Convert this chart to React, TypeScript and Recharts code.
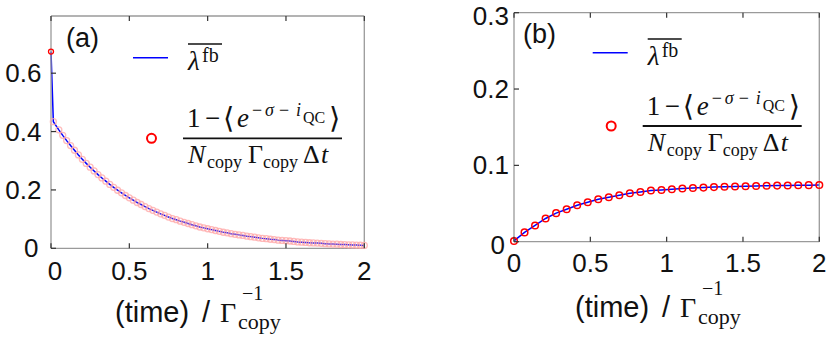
import React from 'react';
import { ComposedChart, Line, XAxis, YAxis } from 'recharts';

// panel (a): decay after the feedback switch-on
const timeA = [
  0, 0.015, 0.05, 0.075, 0.1, 0.125, 0.15, 0.175, 0.2, 0.225, 0.25, 0.275, 0.3, 0.325, 0.35, 0.375,
  0.4, 0.425, 0.45, 0.475, 0.5, 0.525, 0.55, 0.575, 0.6, 0.625, 0.65, 0.675, 0.7, 0.725, 0.75, 0.775,
  0.8, 0.825, 0.85, 0.875, 0.9, 0.925, 0.95, 0.975, 1.0, 1.025, 1.05, 1.075, 1.1, 1.125, 1.15, 1.175,
  1.2, 1.225, 1.25, 1.275, 1.3, 1.325, 1.35, 1.375, 1.4, 1.425, 1.45, 1.475, 1.5, 1.525, 1.55, 1.575,
  1.6, 1.625, 1.65, 1.675, 1.7, 1.725, 1.75, 1.775, 1.8, 1.825, 1.85, 1.875, 1.9, 1.925, 1.95, 1.975, 2.0,
];
const lambdaA = [
  0.674, 0.434, 0.406, 0.387, 0.369, 0.352, 0.336, 0.32, 0.305, 0.291, 0.278, 0.265, 0.2525, 0.241, 0.23, 0.219,
  0.209, 0.199, 0.19, 0.181, 0.173, 0.165, 0.157, 0.15, 0.143, 0.136, 0.13, 0.124, 0.118, 0.113, 0.107, 0.102,
  0.098, 0.093, 0.089, 0.085, 0.081, 0.077, 0.073, 0.07, 0.067, 0.064, 0.061, 0.058, 0.055, 0.053, 0.05, 0.048,
  0.046, 0.044, 0.0415, 0.04, 0.038, 0.036, 0.034, 0.033, 0.031, 0.03, 0.028, 0.027, 0.026, 0.025, 0.0235, 0.022,
  0.021, 0.02, 0.019, 0.0185, 0.018, 0.017, 0.016, 0.015, 0.0146, 0.014, 0.013, 0.0127, 0.012, 0.0115, 0.011, 0.0105, 0.01,
];

// panel (b): rise towards the steady state
const timeB = [
  0, 0.069, 0.138, 0.207, 0.276, 0.345, 0.414, 0.483, 0.552, 0.621, 0.69, 0.759, 0.828, 0.897, 0.966,
  1.034, 1.103, 1.172, 1.241, 1.31, 1.379, 1.448, 1.517, 1.586, 1.655, 1.724, 1.793, 1.862, 1.931, 2.0,
];
const lambdaB = [
  0.001, 0.0122, 0.0213, 0.0304, 0.0374, 0.0426, 0.0478, 0.0517, 0.0557, 0.0583, 0.0609, 0.0635, 0.0652, 0.067, 0.0678,
  0.0687, 0.0696, 0.0704, 0.0709, 0.0715, 0.0719, 0.0724, 0.0727, 0.073, 0.0733, 0.0735, 0.0737, 0.0739, 0.0741, 0.0743,
];

const xTicks = [0, 0.5, 1, 1.5, 2];
const yTicksA = [0, 0.2, 0.4, 0.6];
const yTicksB = [0, 0.1, 0.2, 0.3];

const SANS = '"Liberation Sans", Arial, sans-serif';
const MATH = '"Liberation Serif", "DejaVu Serif", serif';
const BOX = '#9a9a9a';
const TICK = '#333';
const INK = '#111';
const TICK_FONT = 26;

const toRows = (ts: number[], vs: number[]) => ts.map((t, i) => ({ t, v: vs[i] }));

const fmt = (v: number) => String(v);

// inward ticks with labels (MATLAB style box)
const bottomTick = (dy: number, zeroDx: number) => (p: any) => (
  <g>
    <line x1={p.x} x2={p.x} y1={p.y} y2={p.y - 5} stroke={TICK} strokeWidth={1.2} />
    <text x={p.x + (p.payload.value === 0 ? zeroDx : 0)} y={p.y + dy} textAnchor="middle"
      fontFamily={SANS} fontSize={TICK_FONT} fill={INK}>{fmt(p.payload.value)}</text>
  </g>
);
// matlab nudges the end labels a little inwards
const leftTick = (gap: number, zeroDx: number, zeroDy: number, topVal: number) => (p: any) => {
  const z = p.payload.value === 0;
  const top = p.payload.value === topVal;
  return (
    <g>
      <line x1={p.x} x2={p.x + 5} y1={p.y} y2={p.y} stroke={TICK} strokeWidth={1.2} />
      <text x={p.x - gap + (z ? zeroDx : 0)} y={p.y + 9 + (z ? zeroDy : 0) + (top ? 3 : 0)} textAnchor="end"
        fontFamily={SANS} fontSize={TICK_FONT} fill={INK}>{fmt(p.payload.value)}</text>
    </g>
  );
};
const topTick = (p: any) => (
  <line x1={p.x} x2={p.x} y1={p.y} y2={p.y + 5} stroke={TICK} strokeWidth={1.2} />
);
const rightTick = (p: any) => (
  <line x1={p.x} x2={p.x - 5} y1={p.y} y2={p.y} stroke={TICK} strokeWidth={1.2} />
);

type PanelProps = {
  rows: { t: number; v: number }[];
  yMax: number;
  yTicks: number[];
  box: { top: number; right: number; bottom: number; left: number };
  xLabelDy: number;
  xZeroDx: number;
  yGap: number;
  yZeroDx: number;
  yZeroDy: number;
  dense: boolean;
};

const Panel = ({ rows, yMax, yTicks, box, xLabelDy, xZeroDx, yGap, yZeroDx, yZeroDy, dense }: PanelProps) => {
  // each axis takes 1px, so the margins are one pixel smaller than the box insets
  const margin = { top: box.top - 1, right: box.right - 1, bottom: box.bottom - 1, left: box.left - 1 };
  const markerDot = (p: any) => {
    if (p.cx == null || p.cy == null) return <g key={p.index} />;
    if (dense) {
      const first = p.index === 0;
      return (
        <circle key={p.index} cx={p.cx} cy={p.cy} r={first ? 2.5 : 3} fill="none"
          stroke={first ? '#ff0000' : '#ffaaaa'} strokeOpacity={first ? 1 : 0.8} strokeWidth={1.3} />
      );
    }
    return <circle key={p.index} cx={p.cx} cy={p.cy} r={3.3} fill="none" stroke="#ff0000" strokeWidth={1.5} />;
  };
  const markers = (
    <Line key="m" xAxisId="b" yAxisId="l" dataKey="v" stroke="none" dot={markerDot}
      activeDot={false} isAnimationActive={false} />
  );
  const curve = (
    <Line key="c" xAxisId="b" yAxisId="l" dataKey="v" type="linear" stroke="#0000ff" strokeWidth={1.5}
      dot={false} activeDot={false} isAnimationActive={false} />
  );
  return (
    <ComposedChart width={415} height={340} data={rows} margin={margin}>
      <XAxis xAxisId="b" dataKey="t" type="number" domain={[0, 2]} ticks={xTicks} interval={0}
        orientation="bottom" height={1} tickSize={0} tickMargin={0} tickLine={false}
        axisLine={{ stroke: BOX, strokeWidth: 1.3 }} tick={bottomTick(xLabelDy, xZeroDx)} />
      <XAxis xAxisId="t" dataKey="t" type="number" domain={[0, 2]} ticks={xTicks} interval={0}
        orientation="top" height={1} tickSize={0} tickMargin={0} tickLine={false}
        axisLine={{ stroke: BOX, strokeWidth: 1.3 }} tick={topTick} />
      <YAxis yAxisId="l" type="number" domain={[0, yMax]} ticks={yTicks} interval={0}
        orientation="left" width={1} tickSize={0} tickMargin={0} tickLine={false}
        axisLine={{ stroke: BOX, strokeWidth: 1.3 }}
        tick={leftTick(yGap, yZeroDx, yZeroDy, yMax)} />
      <YAxis yAxisId="r" type="number" domain={[0, yMax]} ticks={yTicks} interval={0}
        orientation="right" width={1} tickSize={0} tickMargin={0} tickLine={false}
        axisLine={{ stroke: BOX, strokeWidth: 1.3 }} tick={rightTick} />
      {dense ? [markers, curve] : [curve, markers]}
    </ComposedChart>
  );
};

// legend drawn in panel (a) coordinates, shifted for panel (b)
const LegendBlock = ({ dx, dy1, dy2 }: { dx: number; dy1: number; dy2: number }) => (
  <g fill={INK}>
    <g transform={`translate(${dx},${dy1})`}>
      <line x1={133} x2={168} y1={57.7} y2={57.7} stroke="#0000ff" strokeWidth={1.5} />
      <line x1={188} x2={222} y1={44} y2={44} stroke={INK} strokeWidth={1.4} />
      <text x={188} y={70} fontFamily={MATH} fontSize={27} fontStyle="italic">λ</text>
      <text x={202} y={62} fontFamily={MATH} fontSize={20}>fb</text>
    </g>
    <g transform={`translate(${dx},${dy2})`}>
      <circle cx={151.5} cy={138.3} r={4.5} fill="none" stroke="#ff0000" strokeWidth={2} />
      <text x={187} y={127} fontFamily={MATH} fontSize={27}>1</text>
      <text x={205} y={127} fontFamily={MATH} fontSize={27}>−</text>
      <text x={223} y={128} fontFamily={MATH} fontSize={29}>⟨</text>
      <text x={237} y={127} fontFamily={MATH} fontSize={27} fontStyle="italic">e</text>
      <text x={252} y={116} fontFamily={MATH} fontSize={18}>−</text>
      <text x={265} y={116} fontFamily={MATH} fontSize={18} fontStyle="italic">σ</text>
      <text x={279} y={116} fontFamily={MATH} fontSize={18}>−</text>
      <text x={296} y={116} fontFamily={MATH} fontSize={18} fontStyle="italic">i</text>
      <text x={303} y={123} fontFamily={MATH} fontSize={16}>QC</text>
      <text x={329} y={128} fontFamily={MATH} fontSize={29}>⟩</text>
      <line x1={183} x2={342} y1={138.3} y2={138.3} stroke={INK} strokeWidth={1.8} />
      <text x={188} y={163} fontFamily={MATH} fontSize={26} fontStyle="italic">N</text>
      <text x={207} y={168} fontFamily={MATH} fontSize={18}>copy</text>
      <text x={248} y={163} fontFamily={MATH} fontSize={26}>Γ</text>
      <text x={263} y={168} fontFamily={MATH} fontSize={18}>copy</text>
      <text x={303} y={163} fontFamily={MATH} fontSize={26}>Δ</text>
      <text x={321} y={163} fontFamily={MATH} fontSize={26} fontStyle="italic">t</text>
    </g>
  </g>
);

const XLabel = ({ dx, dy }: { dx: number; dy: number }) => (
  <g fill={INK} transform={`translate(${dx},${dy})`}>
    <text x={115} y={322} fontFamily={SANS} fontSize={29}>(time)</text>
    <text x={202} y={322} fontFamily={SANS} fontSize={29}>/</text>
    <text x={220} y={322} fontFamily={MATH} fontSize={28}>Γ</text>
    <text x={242} y={300} fontFamily={MATH} fontSize={20}>−1</text>
    <text x={238} y={329} fontFamily={MATH} fontSize={22}>copy</text>
  </g>
);

export default function App() {
  const rowsA = toRows(timeA, lambdaA);
  const rowsB = toRows(timeB, lambdaB);
  return (
    <div style={{ position: 'absolute', left: 0, top: 0, width: 830, height: 340, background: '#fff' }}>
      <div style={{ position: 'absolute', left: 0, top: 0 }}>
        <Panel rows={rowsA} yMax={0.796} yTicks={yTicksA}
          box={{ top: 16, right: 50.7, bottom: 91.7, left: 51 }}
          xLabelDy={31.5} xZeroDx={4} yGap={9.5} yZeroDx={-3} yZeroDy={0} dense />
      </div>
      <div style={{ position: 'absolute', left: 415, top: 0 }}>
        <Panel rows={rowsB} yMax={0.3} yTicks={yTicksB}
          box={{ top: 12.7, right: 10.7, bottom: 98.3, left: 99 }}
          xLabelDy={30} xZeroDx={0} yGap={5} yZeroDx={-4} yZeroDy={3} dense={false} />
      </div>
      <svg width={830} height={340} style={{ position: 'absolute', left: 0, top: 0, pointerEvents: 'none' }}>
        <text x={66} y={47} fontFamily={SANS} fontSize={27} fill={INK}>(a)</text>
        <text x={523} y={43} fontFamily={SANS} fontSize={27} fill={INK}>(b)</text>
        <LegendBlock dx={0} dy1={0} dy2={0} />
        <LegendBlock dx={459.7} dy1={-5} dy2={-12.3} />
        <XLabel dx={0} dy={0} />
        <XLabel dx={460} dy={-5} />
      </svg>
    </div>
  );
}
